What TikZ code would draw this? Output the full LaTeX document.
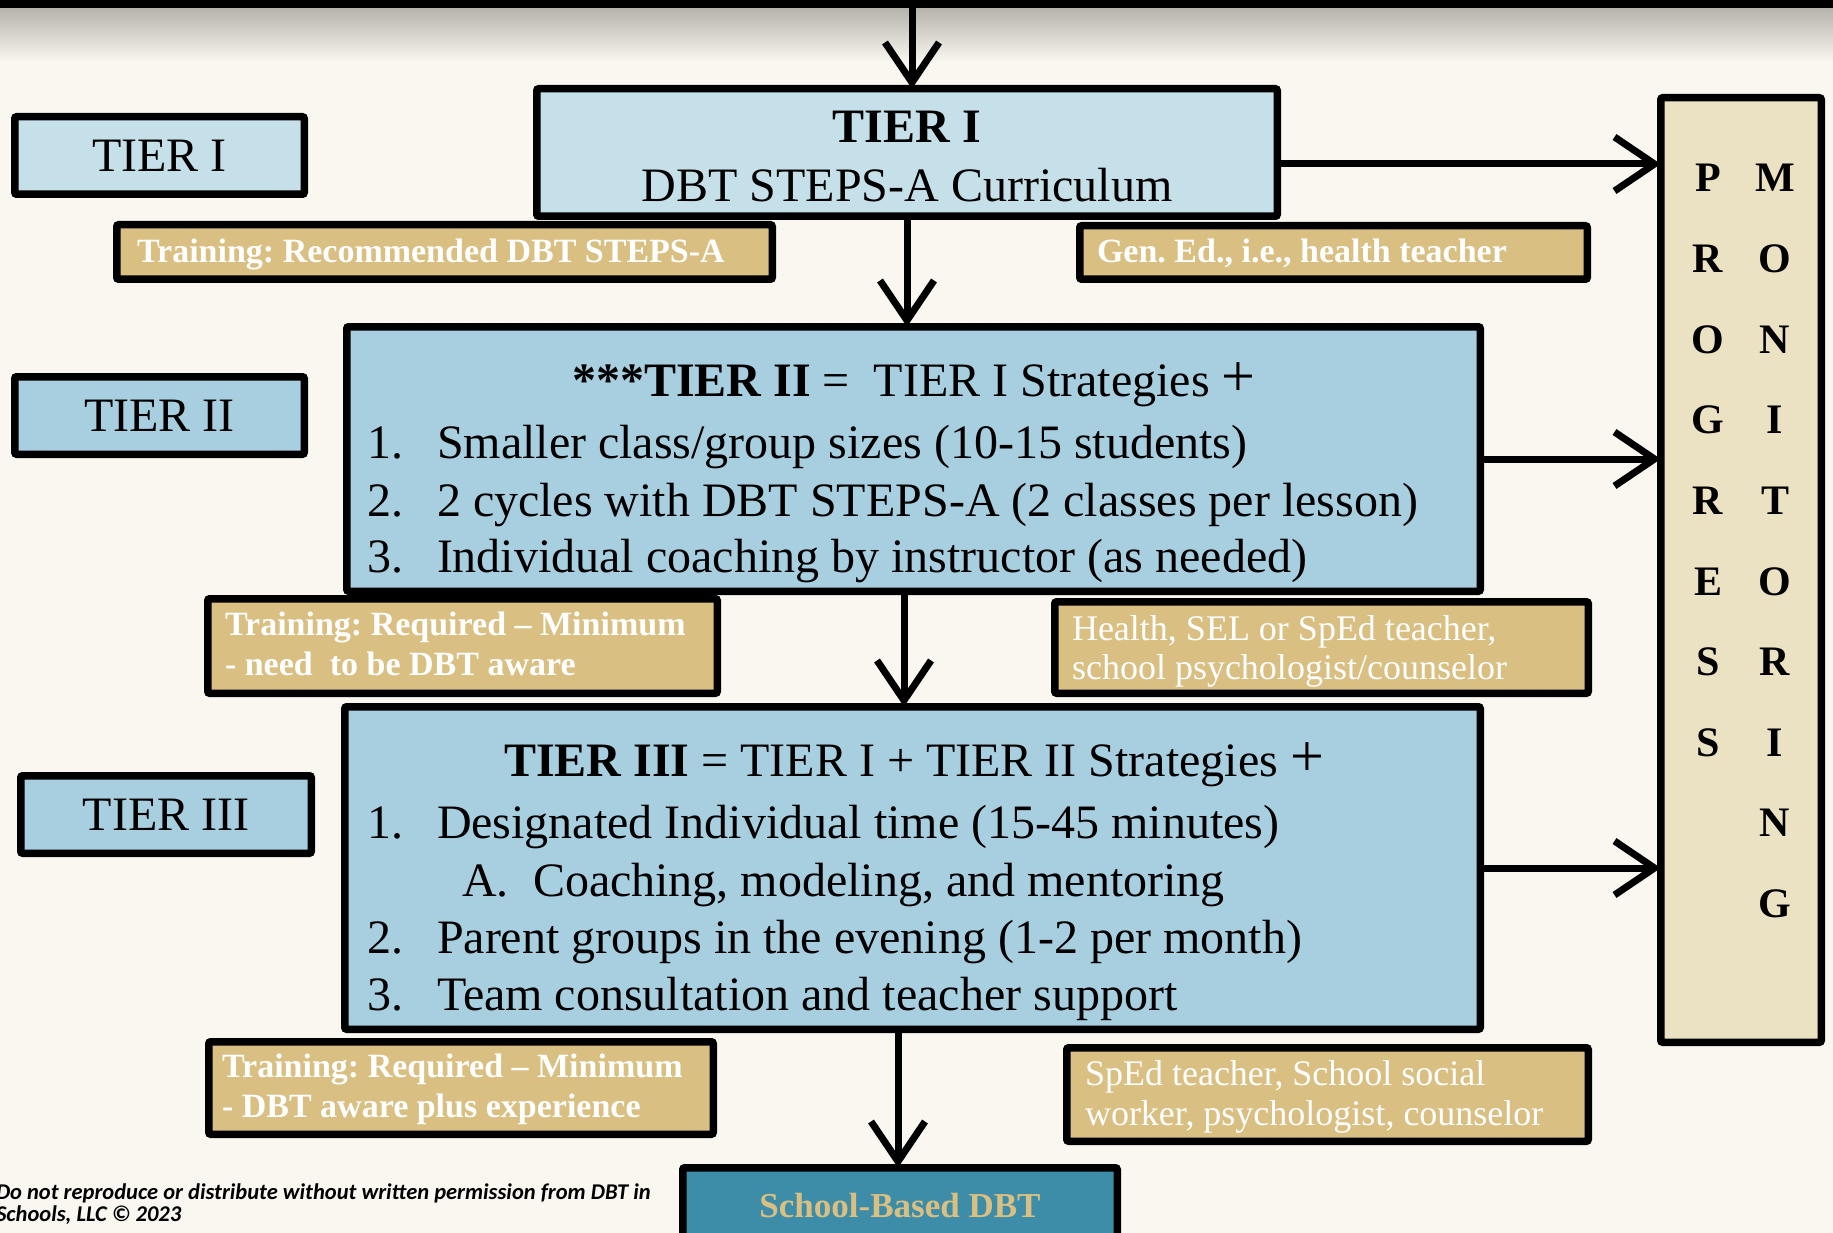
\documentclass[tikz,border=0pt]{standalone}
\usepackage{fontspec}
\setmainfont{Liberation Serif}
\newfontfamily\notefont{Carlito}
\usetikzlibrary{arrows.meta}
\frenchspacing
\newcommand\fsz[1]{\fontsize{#1}{#1}\selectfont}
\definecolor{paper}{HTML}{FAF7F0}
\definecolor{shadowgray}{HTML}{B5B2AB}
\definecolor{tierlight}{HTML}{C5E0E8}
\definecolor{tiermid}{HTML}{A7CFDF}
\definecolor{tan}{HTML}{D9BF82}
\definecolor{beige}{HTML}{EBE1C3}
\definecolor{teal}{HTML}{3E8DA8}
\begin{document}
\begin{tikzpicture}[x=1pt,y=-1pt,
  box/.style={draw=black, line width=7.5pt, rounded corners=2pt, inner sep=0pt, outer sep=0pt},
  tanbox/.style={box, fill=tan},
  txt/.style={inner sep=0pt, outer sep=0pt},
  tantxt/.style={txt, anchor=base west, text=white, font=\bfseries\fsz{34}},
  roletxt/.style={txt, anchor=base west, text=white, font=\fsz{36}},
  pmletter/.style={txt, anchor=base, font=\bfseries\fsz{42}},
  arr/.style={line width=7pt, -{Straight Barb[length=40pt,width=54pt]}},
  font=\fsz{48}]
\useasboundingbox (0,0) rectangle (1833,1233);
\fill[paper] (0,0) rectangle (1833,1233);

% top rule with its soft shadow
\shade[top color=shadowgray, bottom color=paper] (0,7) rectangle (1833,62);
\fill[black] (0,0) rectangle (1833,8);
\coordinate (topsrc) at (912,8);

% tier labels on the left
\node[box, fill=tierlight, minimum width=289.5, minimum height=77.5] (lbl1) at (159.5,155.5) {TIER I};
\node[box, fill=tiermid, minimum width=289.5, minimum height=77.5] (lbl2) at (159.5,415.5) {TIER II};
\node[box, fill=tiermid, minimum width=290.5, minimum height=77.5] (lbl3) at (166,814.5) {TIER III};

% main tier boxes
\node[box, fill=tierlight, minimum width=740.5, minimum height=127.5] (tier1) at (907,152.5) {};
\node[box, fill=tiermid, minimum width=1133.5, minimum height=264.5] (tier2) at (913.5,459) {};
\node[box, fill=tiermid, minimum width=1135.5, minimum height=322.5] (tier3) at (912.5,868) {};

% progress monitoring column
\node[box, fill=beige, minimum width=160.5, minimum height=944.5] (pm) at (1741,570) {};

% training and staffing notes
\node[tanbox, minimum width=655.5, minimum height=54.5] (tr1) at (444.5,252) {};
\node[tanbox, minimum width=507.5, minimum height=53.5] (gen) at (1333.5,252.5) {};
\node[tanbox, minimum width=509.5, minimum height=94.5] (tr2) at (462.5,646) {};
\node[tanbox, minimum width=533.5, minimum height=91.5] (health) at (1321.5,647.5) {};
\node[tanbox, minimum width=504.5, minimum height=92.5] (tr3) at (461,1088) {};
\node[tanbox, minimum width=521.5, minimum height=93.5] (sped) at (1327.5,1094.5) {};

% school-based DBT
\node[box, fill=teal, minimum width=434.5, minimum height=82.5] (school) at (900,1209) {};
\node[txt, anchor=base, text=tan, font=\bfseries\fsz{35}] (schooltxt) at (900,1217) {School-Based DBT};

% connectors
\draw[arr] (topsrc) -- (topsrc |- tier1.north);
\draw[arr] (tier1.south) -- (tier1.south |- tier2.north);
\draw[arr] ([xshift=-9.5pt]tier2.south) -- ([xshift=-9.5pt]tier2.south |- tier3.north);
\draw[arr] ([xshift=-14.5pt]tier3.south) -- ([xshift=-14.5pt]tier3.south |- school.north);
\draw[arr] ([yshift=-11.5pt]tier1.east) -- ([yshift=-11.5pt]tier1.east -| pm.west);
\draw[arr] (tier2.east) -- (tier2.east -| pm.west);
\draw[arr] (tier3.east) -- (tier3.east -| pm.west);

% tier I text
\node[txt, anchor=base] (t1a) at (907,143) {\bfseries TIER I};
\node[txt, anchor=base] (t1b) at (907,202) {DBT STEPS-A Curriculum};

% tier II text
\node[txt, anchor=base] (t2h) at (914,396) {\textbf{***TIER II} = \ TIER I Strategies {\fsz{60}+}};
\node[txt, anchor=base west] (t2n1) at (367,458) {1.};
\node[txt, anchor=base west] (t2i1) at (437,458) {Smaller class/group sizes (10-15 students)};
\node[txt, anchor=base west] (t2n2) at (367,516) {2.};
\node[txt, anchor=base west] (t2i2) at (437,516) {2 cycles with DBT STEPS-A (2 classes per lesson)};
\node[txt, anchor=base west] (t2n3) at (367,572) {3.};
\node[txt, anchor=base west] (t2i3) at (437,572) {Individual coaching by instructor (as needed)};

% tier III text
\node[txt, anchor=base] (t3h) at (914,776) {\textbf{TIER III} = TIER I + TIER II Strategies {\fsz{60}+}};
\node[txt, anchor=base west] (t3n1) at (367,838) {1.};
\node[txt, anchor=base west] (t3i1) at (437,838) {Designated Individual time (15-45 minutes)};
\node[txt, anchor=base west] (t3na) at (462,896) {A.};
\node[txt, anchor=base west] (t3ia) at (533,896) {Coaching, modeling, and mentoring};
\node[txt, anchor=base west] (t3n2) at (367,953) {2.};
\node[txt, anchor=base west] (t3i2) at (437,953) {Parent groups in the evening (1-2 per month)};
\node[txt, anchor=base west] (t3n3) at (367,1010) {3.};
\node[txt, anchor=base west] (t3i3) at (437,1010) {Team consultation and teacher support};

% note texts
\node[tantxt] (tr1a) at (137,263) {Training: Recommended DBT STEPS-A};
\node[tantxt] (gena) at (1097,262) {Gen. Ed., i.e., health teacher};
\node[tantxt] (tr2a) at (225,635) {Training: Required – Minimum};
\node[tantxt] (tr2b) at (225,675) {- need \ to be DBT aware};
\node[roletxt] (hea) at (1072,640) {Health, SEL or SpEd teacher,};
\node[roletxt] (heb) at (1072,679) {school psychologist/counselor};
\node[tantxt] (tr3a) at (222,1077) {Training: Required – Minimum};
\node[tantxt] (tr3b) at (222,1117) {- DBT aware plus experience};
\node[roletxt] (spa) at (1085,1085) {SpEd teacher, School social};
\node[roletxt] (spb) at (1085,1125) {worker, psychologist, counselor};

% progress monitoring letters
\foreach \ch [count=\i from 0] in {P,R,O,G,R,E,S,S}
  \node[pmletter] (pg\i) at (1708,{192+80.6*\i}) {\ch};
\foreach \ch [count=\i from 0] in {M,O,N,I,T,O,R,I,N,G}
  \node[pmletter] (mo\i) at (1775,{192+80.6*\i}) {\ch};

% copyright line
\node[txt, anchor=base west, font=\notefont\bfseries\itshape\fsz{22.5}] (note1) at (-4,1199) {Do not reproduce or distribute without written permission from DBT in};
\node[txt, anchor=base west, font=\notefont\bfseries\itshape\fsz{22.5}] (note2) at (-4,1221) {Schools, LLC © 2023};
\end{tikzpicture}
\end{document}
